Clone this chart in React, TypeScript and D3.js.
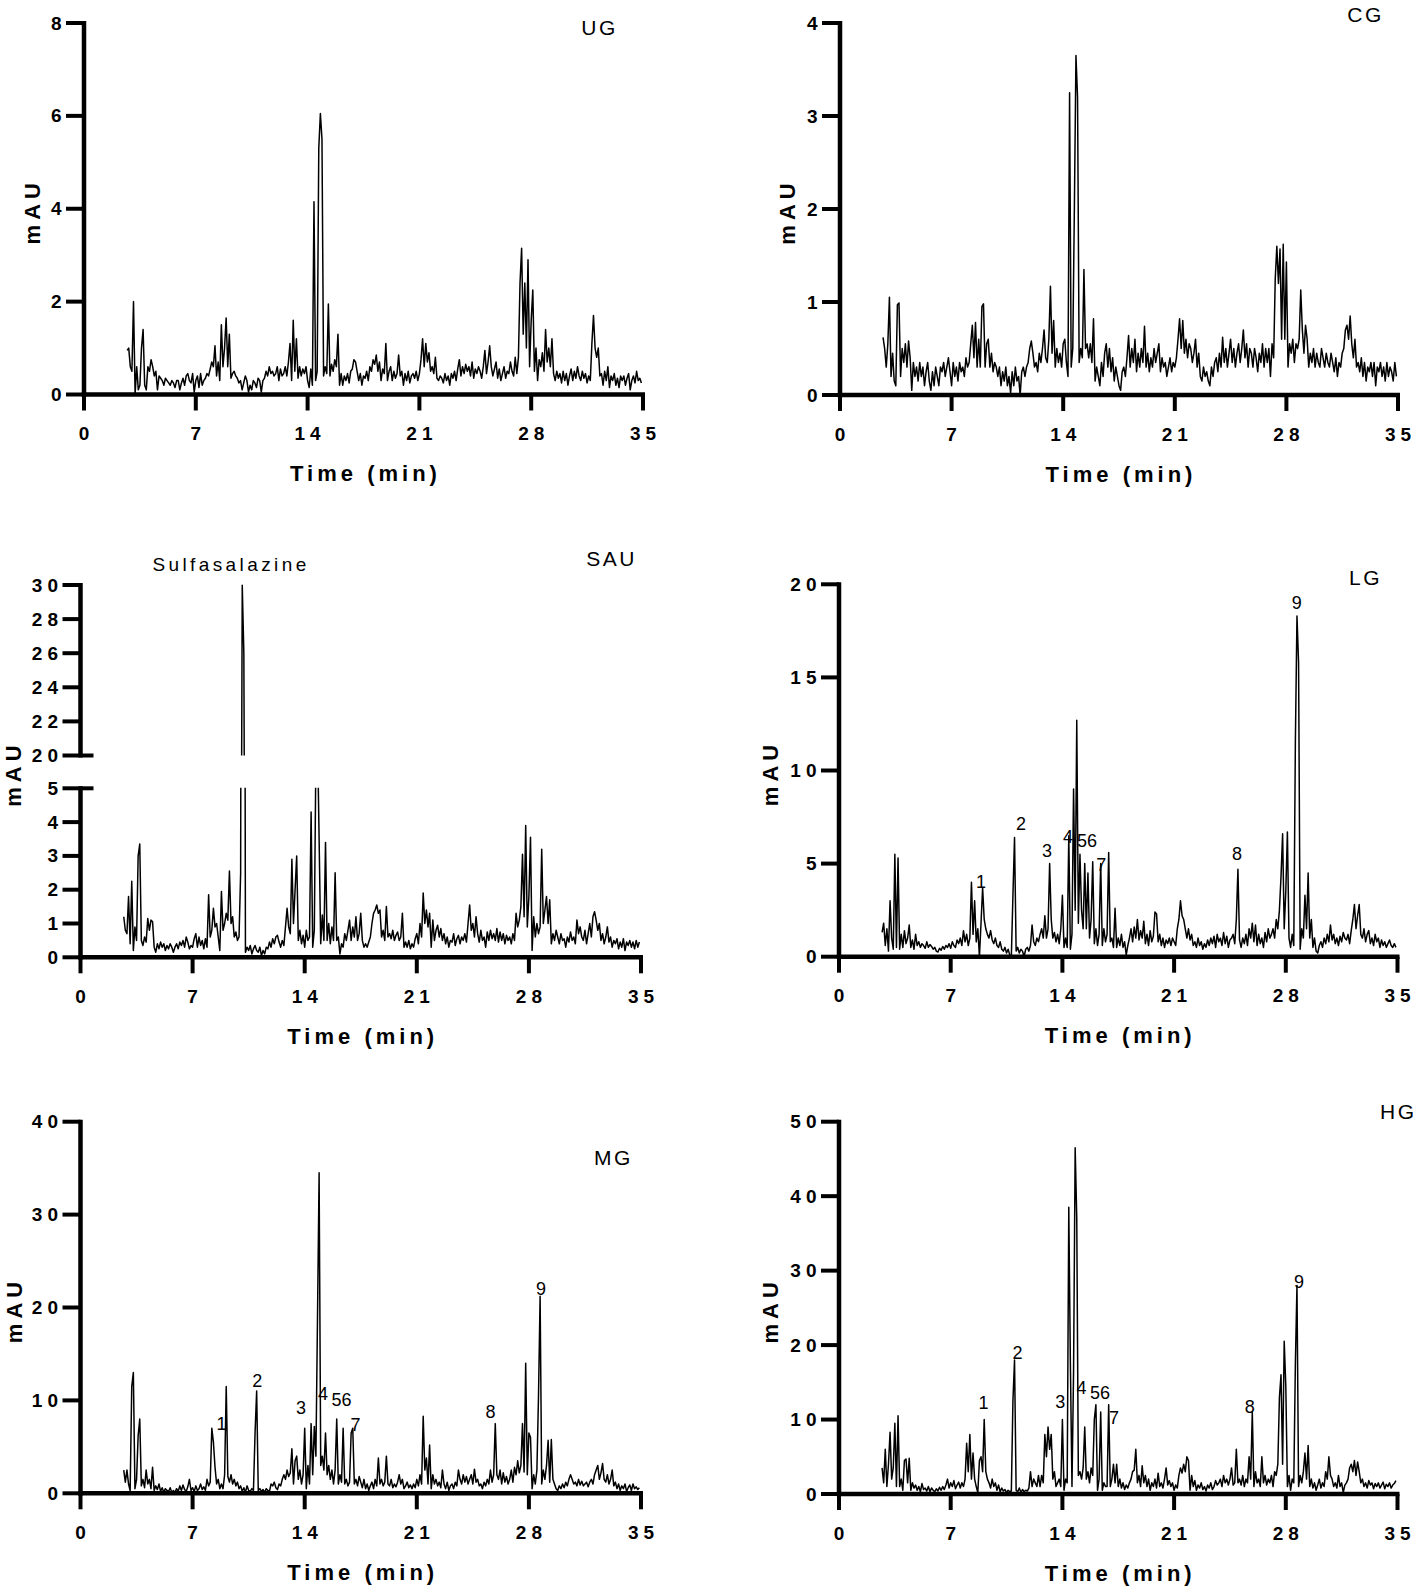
import React from "react";
import * as d3 from "d3";

// sampling of the chromatograms (minutes)
const T0 = 2.7;
const DT = 0.1;
const X_TICKS = [0, 7, 14, 21, 28, 35];

const UG_VALUES = [0.95,
  1.0, 0.6, 0.5, 2.0, 0.0, 0.6, 0.1, 0.2, 1.0, 1.4,
  0.2, 0.1, 0.6, 0.5, 0.75, 0.6, 0.4, 0.5, 0.1, 0.4,
  0.35, 0.3, 0.2, 0.35, 0.3, 0.25, 0.2, 0.3, 0.25, 0.15,
  0.3, 0.3, 0.1, 0.25, 0.35, 0.2, 0.4, 0.45, 0.3, 0.25,
  0.45, 0.05, 0.3, 0.4, 0.15, 0.45, 0.2, 0.3, 0.35, 0.45,
  0.4, 0.55, 0.7, 0.6, 1.05, 0.4, 0.7, 0.3, 1.5, 0.6,
  1.0, 1.65, 0.6, 1.3, 0.35, 0.45, 0.5, 0.4, 0.35, 0.25,
  0.3, 0.1, 0.25, 0.4, 0.3, 0.05, 0.2, 0.1, 0.3, 0.25,
  0.15, 0.35, 0.3, 0.05, 0.3, 0.35, 0.5, 0.4, 0.6, 0.45,
  0.5, 0.4, 0.45, 0.6, 0.3, 0.55, 0.4, 0.45, 0.6, 0.4,
  0.7, 1.1, 0.3, 1.6, 0.5, 1.2, 0.35, 0.6, 0.4, 0.55,
  0.45, 0.6, 0.3, 0.15, 0.55, 0.2, 4.15, 0.3, 0.5, 5.3,
  6.05, 5.5, 0.4, 0.6, 0.45, 1.95, 0.4, 0.65, 0.5, 0.75,
  0.6, 1.3, 0.2, 0.45, 0.2, 0.4, 0.3, 0.45, 0.25, 0.5,
  0.55, 0.75, 0.7, 0.5, 0.3, 0.45, 0.2, 0.4, 0.35, 0.5,
  0.3, 0.6, 0.5, 0.75, 0.65, 0.85, 0.5, 0.7, 0.3, 0.55,
  0.45, 1.1, 0.3, 0.5, 0.6, 0.3, 0.5, 0.35, 0.45, 0.85,
  0.4, 0.5, 0.2, 0.45, 0.3, 0.5, 0.25, 0.4, 0.45, 0.35,
  0.5, 0.3, 0.45, 0.75, 1.2, 0.6, 1.1, 0.7, 0.9, 0.5,
  0.6, 0.45, 0.8, 0.35, 0.3, 0.4, 0.35, 0.25, 0.45, 0.3,
  0.4, 0.2, 0.45, 0.35, 0.5, 0.3, 0.55, 0.75, 0.4, 0.6,
  0.45, 0.65, 0.5, 0.6, 0.4, 0.7, 0.35, 0.55, 0.45, 0.6,
  0.5, 0.35, 0.6, 0.95, 0.45, 0.7, 1.05, 0.6, 0.4, 0.55,
  0.7, 0.35, 0.55, 0.3, 0.45, 0.6, 0.35, 0.5, 0.45, 0.7,
  0.5, 0.4, 0.8, 0.45, 0.8, 2.4, 3.15, 1.3, 2.4, 1.0,
  2.9, 0.6, 1.6, 2.25, 0.5, 1.0, 0.3, 0.75, 0.6, 0.9,
  0.5, 1.4, 0.7, 1.0, 0.6, 1.2, 0.45, 0.3, 0.5, 0.35,
  0.45, 0.25, 0.5, 0.3, 0.45, 0.2, 0.4, 0.55, 0.3, 0.5,
  0.35, 0.6, 0.4, 0.3, 0.5, 0.35, 0.45, 0.25, 0.4, 0.3,
  1.1, 1.7, 1.0, 0.8, 1.0, 0.4, 0.45, 0.2, 0.5, 0.3,
  0.6, 0.15, 0.4, 0.3, 0.45, 0.2, 0.35, 0.15, 0.4, 0.3,
  0.4, 0.2, 0.35, 0.45, 0.1, 0.3, 0.4, 0.25, 0.5, 0.3,
  0.35, 0.25];

const CG_VALUES = [0.62,
  0.5, 0.3, 0.55, 1.05, 0.2, 0.45, 0.15, 0.1, 0.97, 0.99,
  0.2, 0.5, 0.35, 0.55, 0.3, 0.58, 0.4, 0.05, 0.35, 0.2,
  0.3, 0.15, 0.35, 0.2, 0.3, 0.1, 0.25, 0.35, 0.15, 0.05,
  0.25, 0.1, 0.3, 0.2, 0.1, 0.3, 0.25, 0.35, 0.2, 0.3,
  0.4, 0.25, 0.1, 0.35, 0.2, 0.3, 0.15, 0.35, 0.25, 0.3,
  0.2, 0.4, 0.3, 0.35, 0.55, 0.75, 0.4, 0.78, 0.3, 0.6,
  0.3, 0.95, 0.98, 0.3, 0.55, 0.6, 0.3, 0.45, 0.25, 0.35,
  0.3, 0.2, 0.3, 0.1, 0.25, 0.15, 0.3, 0.1, 0.2, 0.02,
  0.25, 0.1, 0.3, 0.15, 0.2, 0.0, 0.25, 0.3, 0.2, 0.3,
  0.35, 0.5, 0.58, 0.45, 0.3, 0.35, 0.25, 0.45, 0.35, 0.5,
  0.7, 0.4, 0.35, 0.6, 1.17, 0.45, 0.8, 0.3, 0.5, 0.35,
  0.45, 0.3, 0.55, 0.6, 0.35, 0.2, 3.25, 0.3, 0.5, 2.0,
  3.65, 3.2, 0.35, 0.5, 0.4, 1.35, 0.5, 0.55, 0.4, 0.55,
  0.35, 0.82, 0.15, 0.3, 0.2, 0.1, 0.35, 0.2, 0.45, 0.55,
  0.3, 0.5, 0.25, 0.4, 0.15, 0.3, 0.2, 0.1, 0.05, 0.25,
  0.3, 0.2, 0.4, 0.64, 0.3, 0.5, 0.35, 0.6, 0.25, 0.45,
  0.3, 0.5, 0.35, 0.74, 0.3, 0.45, 0.25, 0.4, 0.3, 0.5,
  0.35, 0.45, 0.55, 0.25, 0.4, 0.3, 0.35, 0.2, 0.3, 0.4,
  0.25, 0.35, 0.3, 0.4, 0.6, 0.82, 0.5, 0.8, 0.45, 0.6,
  0.4, 0.55, 0.5, 0.35, 0.45, 0.6, 0.3, 0.45, 0.2, 0.15,
  0.3, 0.2, 0.25, 0.15, 0.1, 0.3, 0.2, 0.35, 0.4, 0.25,
  0.45, 0.3, 0.62, 0.35, 0.5, 0.3, 0.45, 0.6, 0.35, 0.5,
  0.3, 0.45, 0.55, 0.35, 0.5, 0.7, 0.4, 0.55, 0.3, 0.5,
  0.45, 0.3, 0.5, 0.4, 0.25, 0.45, 0.35, 0.55, 0.3, 0.5,
  0.35, 0.5, 0.2, 0.55, 0.4, 1.25, 1.6, 1.2, 1.57, 0.6,
  1.62, 0.6, 1.43, 0.3, 0.55, 0.45, 0.6, 0.35, 0.55, 0.5,
  0.6, 1.13, 0.7, 0.45, 0.75, 0.6, 0.3, 0.45, 0.35, 0.5,
  0.3, 0.45, 0.35, 0.3, 0.5, 0.4, 0.3, 0.45, 0.35, 0.3,
  0.45, 0.35, 0.25, 0.4, 0.2, 0.35, 0.3, 0.45, 0.5, 0.7,
  0.75, 0.6, 0.85, 0.55, 0.4, 0.6, 0.3, 0.35, 0.25, 0.4,
  0.2, 0.35, 0.15, 0.3, 0.25, 0.35, 0.2, 0.35, 0.1, 0.3,
  0.25, 0.35, 0.2, 0.3, 0.15, 0.35, 0.2, 0.3, 0.25, 0.15,
  0.35, 0.2];

const SAU_VALUES = [1.2,
  0.8, 0.7, 1.8, 0.4, 2.25, 0.2, 0.9, 0.5, 3.0, 3.35,
  0.5, 0.35, 0.6, 0.45, 1.15, 0.8, 1.1, 1.05, 0.3, 0.15,
  0.4, 0.25, 0.45, 0.3, 0.4, 0.2, 0.35, 0.25, 0.4, 0.3,
  0.15, 0.3, 0.4, 0.25, 0.45, 0.35, 0.5, 0.3, 0.6, 0.45,
  0.25, 0.35, 0.3, 0.55, 0.7, 0.3, 0.6, 0.35, 0.5, 0.25,
  0.55, 0.3, 1.85, 0.6, 0.8, 1.45, 0.9, 1.0, 0.6, 0.2,
  1.95, 0.8, 1.0, 1.3, 1.1, 2.55, 1.0, 1.2, 0.6, 0.75,
  0.5, 0.6, 2.5, 30.0, 26.0, 0.15, 0.3, 0.2, 0.35, 0.1,
  0.25, 0.35, 0.2, 0.15, 0.3, 0.05, 0.2, 0.1, 0.3, 0.25,
  0.45, 0.3, 0.55, 0.4, 0.6, 0.65, 0.45, 0.3, 0.5, 0.35,
  0.9, 1.45, 0.9, 0.7, 2.9, 1.0, 2.0, 3.0, 0.5, 0.8,
  0.4, 0.65, 0.3, 0.8, 0.5, 0.6, 4.3, 0.3, 0.8, 6.0,
  6.5, 3.5, 0.4, 1.25, 0.5, 3.4, 0.5, 1.0, 0.4, 0.9,
  0.5, 2.5, 0.5, 0.6, 0.1, 0.4, 0.3, 0.7, 0.5, 0.8,
  1.1, 0.5, 0.9, 0.6, 1.2, 0.5, 0.7, 1.3, 0.5, 0.3,
  0.4, 0.3, 0.45, 0.6, 1.0, 1.3, 1.4, 1.55, 1.3, 1.4,
  0.6, 0.8, 0.5, 1.5, 0.6, 0.7, 0.55, 0.8, 0.5, 0.65,
  0.75, 0.5, 0.6, 1.3, 0.3, 0.45, 0.3, 0.5, 0.25, 0.4,
  0.3, 0.55, 0.7, 0.4, 1.0, 0.6, 1.9, 1.0, 1.4, 0.9,
  1.3, 0.3, 1.1, 0.5, 0.8, 0.95, 0.6, 0.85, 0.5, 0.7,
  0.4, 0.6, 0.3, 0.5, 0.45, 0.7, 0.35, 0.55, 0.65, 0.4,
  0.6, 0.5, 0.7, 0.45, 1.0, 1.55, 0.8, 1.0, 0.6, 1.2,
  0.7, 0.45, 0.8, 0.5, 0.6, 0.3, 0.75, 0.5, 0.8, 0.55,
  0.7, 0.5, 0.85, 0.45, 0.75, 0.5, 0.7, 0.4, 0.65, 0.5,
  0.6, 0.4, 0.7, 0.5, 1.3, 0.9, 1.1, 1.5, 3.05, 1.2,
  3.9, 0.9, 1.8, 3.55, 0.2, 1.2, 0.6, 1.0, 0.7, 0.9,
  3.2, 1.0, 1.4, 1.8, 1.0, 1.7, 0.4, 0.7, 0.5, 0.8,
  0.6, 0.4, 0.7, 0.5, 0.55, 0.3, 0.6, 0.45, 0.75, 0.5,
  0.6, 0.4, 1.1, 0.7, 0.9, 0.6, 0.5, 0.8, 0.4, 0.7,
  1.0, 0.6, 1.2, 1.35, 1.1, 0.8, 1.0, 0.5, 0.7, 0.4,
  0.6, 0.9, 0.45, 0.6, 0.3, 0.5, 0.4, 0.55, 0.25, 0.45,
  0.3, 0.55, 0.2, 0.45, 0.35, 0.5, 0.3, 0.45, 0.25, 0.5,
  0.3, 0.45];

const LG_VALUES = [1.3,
  1.8, 0.6, 1.5, 0.3, 3.0, 1.0, 0.4, 5.5, 0.5, 5.3,
  0.4, 1.2, 0.5, 1.4, 0.7, 1.0, 1.7, 0.5, 0.9, 0.4,
  1.2, 0.6, 0.8, 0.5, 0.7, 0.6, 0.45, 0.8, 0.5, 0.65,
  0.55, 0.4, 0.5, 0.3, 0.25, 0.45, 0.35, 0.55, 0.4, 0.6,
  0.5, 0.7, 0.45, 0.8, 0.6, 0.5, 0.9, 0.7, 1.0, 0.6,
  1.4, 0.8, 1.2, 0.6, 1.0, 4.0, 1.2, 3.0, 0.8, 1.5,
  0.0, 1.8, 3.7, 2.0, 1.5, 1.2, 1.0, 1.4, 0.9, 0.7,
  1.0, 0.6, 0.5, 0.8, 0.4, 0.3, 0.5, 0.2, 0.4, 0.1,
  0.0, 3.3, 6.4, 0.3, 0.5, 0.2, 0.4, 0.3, 0.0, 0.4,
  0.5, 0.3, 0.6, 1.7, 0.8, 0.6, 1.0, 0.8, 1.2, 1.5,
  1.0, 2.2, 1.0, 1.5, 5.0, 2.0, 1.0, 1.3, 0.8, 1.2,
  0.7, 1.5, 3.3, 0.5, 1.0, 0.5, 6.5, 0.4, 1.2, 9.0,
  2.5, 12.7, 1.8, 5.5, 2.5, 1.5, 5.0, 1.5, 4.5, 1.0,
  2.0, 5.1, 0.7, 1.5, 0.6, 1.2, 5.0, 0.6, 1.5, 0.8,
  1.2, 5.6, 0.8, 1.0, 0.5, 2.6, 0.5, 1.0, 0.6, 1.2,
  0.5, 0.8, 0.1, 0.6, 1.0, 1.5, 0.8, 1.6, 1.0, 2.0,
  0.9, 1.4, 1.0, 1.9, 0.7, 1.2, 0.6, 1.4, 0.8, 1.1,
  2.4, 2.3, 0.8, 1.2, 0.6, 1.0, 0.5, 0.9, 0.7, 1.0,
  0.6, 1.0, 0.8, 0.6, 1.5, 2.0, 3.0, 2.2, 2.0, 1.5,
  1.0, 1.5, 0.9, 1.2, 0.6, 0.8, 0.5, 1.0, 0.6, 0.8,
  0.4, 0.7, 0.5, 0.9, 0.6, 1.0, 0.7, 1.1, 0.5, 1.2,
  0.8, 1.0, 0.6, 1.3, 0.7, 1.1, 0.5, 0.9, 1.0, 1.2,
  0.7, 2.0, 4.7, 0.9, 0.5, 1.0, 0.7, 1.2, 0.6, 1.5,
  1.0, 1.8, 0.8, 1.7, 0.6, 1.2, 0.7, 1.0, 0.5, 1.3,
  0.8, 1.5, 1.0, 1.2, 1.5, 1.0, 2.0, 1.5, 2.5, 4.3,
  6.6, 1.5, 3.5, 6.7, 1.0, 0.5, 1.2, 0.6, 11.5, 18.3,
  15.8, 0.4, 1.5, 1.0, 3.3, 1.5, 4.5, 1.0, 2.0, 0.5,
  1.0, 0.3, 0.2, 0.6, 0.8, 0.5, 1.0, 0.7, 1.2, 0.8,
  1.7, 0.9, 1.2, 0.7, 1.0, 0.6, 1.1, 0.8, 1.3, 1.0,
  0.9, 1.2, 0.7, 1.4, 2.0, 2.8, 1.5, 2.2, 2.8, 1.2,
  1.0, 1.5, 0.8, 1.2, 1.4, 0.7, 1.0, 0.6, 1.2, 0.8,
  1.0, 0.5, 0.9, 0.6, 0.8, 0.5, 0.7, 0.9, 0.6, 0.5,
  0.7, 0.5];

const MG_VALUES = [2.5,
  1.2, 2.5, 1.0, 0.3, 11.5, 13.0, 0.5, 1.5, 6.2, 8.0,
  0.8, 1.5, 0.6, 2.5, 1.0, 1.5, 0.5, 2.8, 0.3, 0.8,
  0.4, 1.0, 0.2, 0.6, 0.1, 0.5, 0.3, 0.2, 0.6, 0.1,
  0.3, 0.1, 0.5, 0.2, 0.8, 0.3, 0.9, 0.4, 0.2, 0.7,
  1.5, 0.3, 0.6, 0.2, 0.8, 0.3, 0.5, 1.0, 0.4, 0.7,
  0.3, 1.5, 0.8, 1.2, 7.0, 5.5, 2.8, 1.0, 1.5, 0.5,
  1.0, 0.5, 2.0, 11.5, 1.8, 1.2, 2.0, 1.0, 1.5, 0.8,
  1.2, 0.5, 0.8, 0.2, 0.6, 0.1, 0.8, 0.3, 0.2, 0.5,
  0.3, 6.5, 11.0, 0.3, 0.5, 0.2, 0.4, 0.1, 0.5, 0.3,
  0.2, 1.0, 0.8, 1.2, 0.6, 0.4, 1.0, 0.8, 1.5, 2.0,
  1.5, 2.5, 1.8, 2.2, 4.8, 1.0, 3.5, 4.0, 1.5, 2.5,
  1.0, 2.0, 7.0, 0.5, 3.0, 1.0, 7.5, 2.0, 7.2, 4.0,
  19.0, 34.5, 3.0, 4.0, 2.5, 6.5, 2.0, 3.0, 1.5, 2.5,
  1.0, 2.5, 8.0, 1.0, 2.0, 1.2, 7.0, 1.0, 1.5, 0.8,
  1.2, 6.5, 7.0, 1.0, 1.5, 0.8, 1.8, 1.2, 0.6, 1.5,
  0.5, 1.0, 0.3, 0.8, 1.2, 0.5, 1.5, 0.8, 3.8, 1.0,
  1.5, 0.8, 1.2, 4.0, 1.0, 0.8, 1.5, 0.6, 1.0, 0.7,
  1.2, 2.0, 1.0, 1.5, 0.5, 0.8, 1.2, 0.6, 0.9, 0.5,
  1.0, 0.6, 1.5, 0.8, 2.0, 1.0, 8.3, 2.5, 3.8, 1.0,
  5.2, 0.5, 2.0, 1.0, 1.5, 0.8, 1.2, 0.6, 2.5, 1.0,
  0.5, 1.2, 0.3, 0.8, 1.0, 0.5, 1.2, 0.8, 2.5, 1.5,
  1.0, 2.0, 1.2, 1.8, 1.0, 1.5, 2.0, 1.0, 2.6, 1.2,
  1.5, 0.8, 1.0, 0.5, 1.2, 0.8, 1.5, 1.0, 2.5, 1.2,
  2.0, 7.5, 2.0, 1.5, 2.5, 1.0, 2.2, 1.2, 1.8, 1.0,
  1.5, 2.5, 1.2, 2.8, 2.0, 3.5, 2.2, 3.0, 7.5, 2.3,
  14.0, 2.0, 6.5, 6.0, 0.5, 2.0, 1.0, 2.5, 10.5, 21.2,
  1.0, 2.5, 1.5, 3.0, 5.7, 1.2, 5.8, 1.5, 1.0, 0.5,
  0.3, 0.8, 0.5, 1.0, 0.6, 1.2, 0.8, 1.5, 2.0, 1.5,
  1.0, 1.2, 0.8, 1.5, 0.9, 1.3, 0.8, 1.0, 1.2, 0.7,
  1.2, 1.5, 1.0, 2.0, 2.5, 3.0, 1.5, 2.2, 3.2, 1.5,
  1.2, 2.0, 1.0, 1.5, 2.5, 0.8, 1.2, 0.5, 1.0, 0.3,
  0.8, 0.5, 1.0, 0.2, 0.6, 0.9, 0.3, 1.0, 0.5, 0.7,
  0.4, 0.6];

const HG_VALUES = [3.5,
  1.5, 6.0, 1.0, 4.0, 8.3, 2.0, 3.5, 9.5, 1.0, 10.5,
  1.0, 2.0, 0.5, 4.5, 4.7, 1.5, 4.8, 0.5, 1.5, 0.8,
  1.2, 0.5, 1.0, 0.3, 1.4, 0.6, 0.8, 0.4, 1.0, 0.3,
  0.8, 0.5, 0.3, 0.7, 0.4, 0.9, 0.5, 1.0, 0.6, 1.2,
  2.0, 0.8, 1.5, 1.0, 1.8, 0.7, 1.2, 1.6, 0.8, 1.5,
  1.0, 2.0, 6.8, 3.0, 8.0, 2.0, 5.5, 2.0, 1.0, 0.2,
  4.5, 5.0, 3.0, 10.0, 3.0, 2.0, 1.5, 0.8, 2.0, 1.0,
  1.5, 0.5, 1.2, 0.3, 0.8, 0.4, 0.6, 0.2, 0.5, 0.3,
  0.4, 12.5, 18.0, 0.5, 0.3, 0.8, 0.2, 0.6, 0.3, 0.5,
  0.4, 0.8, 3.0, 1.0, 2.0, 1.5, 1.0, 2.5, 1.0, 2.5,
  1.5, 8.0, 5.0, 9.0, 6.0, 8.0, 2.0, 3.0, 1.0, 1.5,
  2.0, 1.0, 10.0, 0.5, 2.0, 1.5, 38.5, 17.5, 1.0, 16.5,
  46.5, 37.0, 2.5, 3.0, 2.0, 3.5, 9.0, 2.0, 3.0, 1.5,
  3.5, 2.5, 10.0, 12.0, 0.5, 2.0, 11.0, 0.5, 1.5, 1.0,
  1.0, 12.0, 1.0, 2.0, 4.0, 1.5, 4.0, 1.0, 2.0, 0.8,
  1.5, 0.6, 1.2, 0.8, 1.5, 2.0, 3.0, 3.2, 6.0, 1.5,
  2.5, 1.0, 3.8, 1.5, 2.5, 1.0, 2.0, 0.5, 1.5, 1.0,
  2.0, 0.8, 2.8, 1.0, 1.5, 0.8, 2.0, 3.5, 1.2, 1.8,
  1.0, 1.5, 0.5, 1.2, 0.8, 2.5, 3.5, 2.8, 4.0, 3.0,
  5.0, 4.5, 0.5, 2.5, 1.0, 1.8, 0.5, 1.2, 0.8, 1.5,
  0.6, 1.0, 0.4, 1.2, 0.8, 1.5, 0.6, 1.0, 1.8, 1.2,
  1.5, 2.0, 1.0, 2.5, 1.5, 2.0, 1.2, 2.0, 3.5, 1.2,
  1.5, 6.0, 1.5, 2.0, 1.2, 2.5, 1.0, 2.0, 1.5, 5.0,
  2.0, 11.0, 1.0, 3.0, 1.5, 2.0, 1.0, 5.0, 1.5, 2.5,
  1.2, 2.0, 1.5, 2.5, 1.0, 3.0, 2.5, 4.0, 13.0, 16.0,
  4.0, 20.5, 14.5, 1.0, 2.5, 0.5, 2.0, 1.5, 17.5, 28.0,
  1.0, 2.5, 1.5, 3.0, 5.5, 2.0, 6.5, 1.0, 2.0, 0.8,
  1.5, 0.5, 1.2, 2.0, 0.8, 1.5, 1.0, 3.0, 2.0, 5.0,
  2.5, 2.0, 1.0, 1.5, 0.8, 2.5, 1.0, 1.5, 0.2, 1.2,
  1.5, 2.0, 3.5, 4.0, 3.0, 4.5, 2.5, 4.3, 3.0, 1.5,
  2.0, 1.0, 1.5, 0.8, 1.8, 1.2, 1.5, 0.7, 1.4, 1.0,
  1.5, 0.8, 1.2, 1.6, 0.7, 1.3, 1.0, 1.5, 0.8, 1.2,
  1.4, 1.8];

const UG_Y_TICKS = [0, 2, 4, 6, 8];
const CG_Y_TICKS = [0, 1, 2, 3, 4];
const SAU_LOW_TICKS = [0, 1, 2, 3, 4, 5];
const SAU_HIGH_TICKS = [20, 22, 24, 26, 28, 30];
const LG_Y_TICKS = [0, 5, 10, 15, 20];
const MG_Y_TICKS = [0, 10, 20, 30, 40];
const HG_Y_TICKS = [0, 10, 20, 30, 40, 50];

const PEAK_NAMES = ["1", "2", "3", "4", "56", "7", "8", "9"];
const LG_PEAK_T = [8.9, 11.4, 13.03, 14.35, 15.55, 16.44, 24.94, 28.69];
const LG_PEAK_V = [4.0, 7.1, 5.7, 6.45, 6.2, 4.9, 5.5, 19.0];
const MG_PEAK_T = [8.8, 11.03, 13.77, 15.14, 16.3, 17.17, 25.6, 28.76];
const MG_PEAK_V = [7.5, 12.1, 9.15, 10.7, 10.0, 7.35, 8.7, 21.95];
const HG_PEAK_T = [9.06, 11.18, 13.86, 15.2, 16.36, 17.24, 25.74, 28.83];
const HG_PEAK_V = [12.2, 19.0, 12.3, 14.2, 13.6, 10.2, 11.7, 28.5];

const FONT = "'Liberation Sans', Arial, Helvetica, sans-serif";

type Seg = { lo: number; hi: number; top: number; bottom: number; ticks: number[]; breakAt?: number };
type PanelProps = {
  id: string;
  values: number[];
  left: number;
  right: number;
  segs: Seg[];
  title: string;
  titleX: number;
  titleY: number;
  titleAnchor?: "start" | "middle" | "end";
  yLabelX: number;
  peakNames?: string[];
  peakT?: number[];
  peakV?: number[];
  extra?: { text: string; x: number; y: number };
};

function Panel(p: PanelProps) {
  const x = d3.scaleLinear().domain([0, 35]).range([p.left, p.right]);
  const base = Math.max(...p.segs.map((s) => s.bottom));
  const top = Math.min(...p.segs.map((s) => s.top));
  const axisW = 4.5;
  const tickW = 4;
  const tickLS = 5;
  const tickFS = 19;
  return (
    <g>
      {p.segs.map((s, si) => {
        const y = d3.scaleLinear().domain([s.lo, s.hi]).range([s.bottom, s.top]);
        const line = d3
          .line<number>()
          .x((_, i) => x(T0 + i * DT))
          .y((d) => y(d));
        const cid = `clip-${p.id}-${si}`;
        const isLowest = s.bottom === base;
        return (
          <g key={si}>
            <clipPath id={cid}>
              <rect
                x={p.left}
                y={s.top - 0.5}
                width={p.right - p.left + 4}
                height={s.bottom - s.top + (isLowest ? 3 : 0.5)}
              />
            </clipPath>
            <path
              d={line(p.values) || ""}
              fill="none"
              stroke="#000"
              strokeWidth={1.5}
              strokeLinejoin="round"
              clipPath={`url(#${cid})`}
            />
            <line
              x1={p.left}
              x2={p.left}
              y1={s.top - tickW / 2}
              y2={isLowest ? s.bottom + axisW / 2 : s.bottom + tickW / 2}
              stroke="#000"
              strokeWidth={axisW}
            />
            {s.ticks.map((t) => (
              <g key={t}>
                <line
                  x1={p.left - 18}
                  x2={s.breakAt === t ? p.left + 13 : p.left}
                  y1={y(t)}
                  y2={y(t)}
                  stroke="#000"
                  strokeWidth={tickW}
                />
                <text
                  x={p.left - 17.5}
                  y={y(t)}
                  textAnchor="end"
                  dominantBaseline="central"
                  fontFamily={FONT}
                  fontWeight={700}
                  fontSize={tickFS}
                  letterSpacing={tickLS}
                >
                  {t}
                </text>
              </g>
            ))}
            {isLowest && p.peakNames && p.peakT && p.peakV
              ? p.peakNames.map((n, k) => (
                  <text
                    key={n}
                    x={x(p.peakT![k])}
                    y={y(p.peakV![k])}
                    textAnchor="middle"
                    dominantBaseline="central"
                    fontFamily={FONT}
                    fontSize={18}
                  >
                    {n}
                  </text>
                ))
              : null}
          </g>
        );
      })}
      <line
        x1={p.left - axisW / 2}
        x2={x(35) + tickW / 2}
        y1={base}
        y2={base}
        stroke="#000"
        strokeWidth={axisW}
      />
      {X_TICKS.map((t) => (
        <g key={t}>
          <line x1={x(t)} x2={x(t)} y1={base} y2={base + 16} stroke="#000" strokeWidth={tickW} />
          <text
            x={x(t) + tickLS / 2}
            y={base + 39}
            textAnchor="middle"
            dominantBaseline="central"
            fontFamily={FONT}
            fontWeight={700}
            fontSize={tickFS}
            letterSpacing={tickLS}
          >
            {t}
          </text>
        </g>
      ))}
      <text
        x={(p.left + p.right) / 2 + 2}
        y={base + 79}
        textAnchor="middle"
        dominantBaseline="central"
        fontFamily={FONT}
        fontWeight={700}
        fontSize={22}
        letterSpacing={4}
      >
        Time (min)
      </text>
      <text
        transform={`translate(${p.yLabelX},${(top + base) / 2 + 2.5}) rotate(-90)`}
        textAnchor="middle"
        dominantBaseline="central"
        fontFamily={FONT}
        fontWeight={700}
        fontSize={22}
        letterSpacing={5}
      >
        mAU
      </text>
      <text
        x={p.titleAnchor === "start" ? p.titleX : p.titleX + 1.5}
        y={p.titleY}
        textAnchor={p.titleAnchor || "middle"}
        dominantBaseline="central"
        fontFamily={FONT}
        fontSize={21}
        letterSpacing={2.5}
      >
        {p.title}
      </text>
      {p.extra ? (
        <text
          x={p.extra.x}
          y={p.extra.y}
          textAnchor="middle"
          dominantBaseline="central"
          fontFamily={FONT}
          fontSize={19}
          letterSpacing={3.4}
        >
          {p.extra.text}
        </text>
      ) : null}
    </g>
  );
}

export default function App() {
  return (
    <svg
      width={1418}
      height={1592}
      viewBox="0 0 1418 1592"
      style={{ position: "absolute", left: 0, top: 0, background: "#fff" }}
    >
      <rect x={0} y={0} width={1418} height={1592} fill="#fff" />
      <Panel
        id="ug"
        values={UG_VALUES}
        left={84}
        right={643}
        segs={[{ lo: 0, hi: 8, top: 23, bottom: 394.5, ticks: UG_Y_TICKS }]}
        title="UG"
        titleX={598}
        titleY={27}
        yLabelX={32}
      />
      <Panel
        id="cg"
        values={CG_VALUES}
        left={840}
        right={1398}
        segs={[{ lo: 0, hi: 4, top: 23, bottom: 395, ticks: CG_Y_TICKS }]}
        title="CG"
        titleX={1364}
        titleY={14}
        yLabelX={787}
      />
      <Panel
        id="sau"
        values={SAU_VALUES}
        left={80.5}
        right={641}
        segs={[
          { lo: 0, hi: 5, top: 788.3, bottom: 957.3, ticks: SAU_LOW_TICKS, breakAt: 5 },
          { lo: 20, hi: 30, top: 585, bottom: 755.5, ticks: SAU_HIGH_TICKS, breakAt: 20 },
        ]}
        title="SAU"
        titleX={610}
        titleY={558}
        yLabelX={13}
        extra={{ text: "Sulfasalazine", x: 231, y: 564 }}
      />
      <Panel
        id="lg"
        values={LG_VALUES}
        left={839}
        right={1397.5}
        segs={[{ lo: 0, hi: 20, top: 584.3, bottom: 956.7, ticks: LG_Y_TICKS }]}
        title="LG"
        titleX={1364}
        titleY={577}
        yLabelX={770}
        peakNames={PEAK_NAMES}
        peakT={LG_PEAK_T}
        peakV={LG_PEAK_V}
      />
      <Panel
        id="mg"
        values={MG_VALUES}
        left={80.5}
        right={641}
        segs={[{ lo: 0, hi: 40, top: 1121.7, bottom: 1493.3, ticks: MG_Y_TICKS }]}
        title="MG"
        titleX={612}
        titleY={1157}
        yLabelX={14}
        peakNames={PEAK_NAMES}
        peakT={MG_PEAK_T}
        peakV={MG_PEAK_V}
      />
      <Panel
        id="hg"
        values={HG_VALUES}
        left={839}
        right={1397.5}
        segs={[{ lo: 0, hi: 50, top: 1121.7, bottom: 1494, ticks: HG_Y_TICKS }]}
        title="HG"
        titleX={1380}
        titleY={1111}
        titleAnchor="start"
        yLabelX={770}
        peakNames={PEAK_NAMES}
        peakT={HG_PEAK_T}
        peakV={HG_PEAK_V}
      />
    </svg>
  );
}
